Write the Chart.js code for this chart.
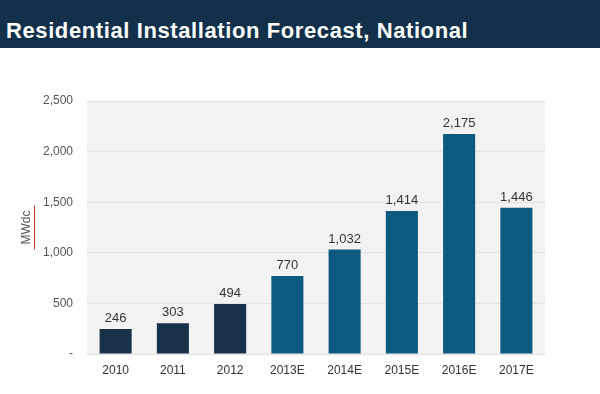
<!DOCTYPE html>
<html>
<head>
<meta charset="utf-8">
<script src="https://cdn.jsdelivr.net/npm/chart.js@4"></script>
<style>
  html, body { margin: 0; padding: 0; background: #fff; }
  #bar {
    height: 48px; background: #12304a; color: #fff;
    font: bold 22px "Liberation Sans", Arial, sans-serif;
    letter-spacing: 0.6px;
    padding-left: 6px; box-sizing: border-box;
    padding-top: 18px; line-height: 26px;
  }
  #wrap { position: relative; width: 600px; height: 346px; }
</style>
</head>
<body>
<div id="bar">Residential Installation Forecast, National</div>
<div id="wrap"><canvas id="myChart"></canvas></div>
<script>
var years = ["2010", "2011", "2012", "2013E", "2014E", "2015E", "2016E", "2017E"];
var mwdc = [246, 303, 494, 770, 1032, 1414, 2175, 1446];
var yTicks = [0, 500, 1000, 1500, 2000, 2500];
var barColors = years.map(function (y) {
  return y.indexOf("E") > 0 ? "#0d5a81" : "#17314a";
});

// grey plot area, value labels and the MWdc axis title
var extras = {
  id: "extras",
  beforeDraw: function (chart) {
    var a = chart.chartArea, ctx = chart.ctx;
    ctx.save();
    ctx.fillStyle = "#f2f2f2";
    ctx.fillRect(a.left, a.top, a.right - a.left, a.bottom - a.top);
    ctx.restore();
  },
  afterDraw: function (chart) {
    var ctx = chart.ctx, a = chart.chartArea;
    ctx.save();
    ctx.font = "13px 'Liberation Sans', Arial, sans-serif";
    ctx.fillStyle = "#333";
    ctx.textAlign = "center";
    ctx.textBaseline = "bottom";
    chart.getDatasetMeta(0).data.forEach(function (bar, i) {
      ctx.fillText(mwdc[i].toLocaleString("en-US"), bar.x, bar.y - 4);
    });
    var cy = (a.top + a.bottom) / 2;
    ctx.translate(27, cy);
    ctx.rotate(-Math.PI / 2);
    ctx.font = "12px 'Liberation Sans', Arial, sans-serif";
    ctx.fillStyle = "#555";
    ctx.textBaseline = "middle";
    ctx.fillText("MWdc", 0, 0);
    ctx.strokeStyle = "#c0392b";
    ctx.lineWidth = 1;
    ctx.beginPath();
    ctx.moveTo(-22, 7.5);
    ctx.lineTo(22, 7.5);
    ctx.stroke();
    ctx.restore();
  }
};

new Chart("myChart", {
  type: "bar",
  data: {
    labels: years,
    datasets: [{
      data: mwdc,
      backgroundColor: barColors,
      barPercentage: 0.56,
      categoryPercentage: 1
    }]
  },
  plugins: [extras],
  options: {
    responsive: true,
    maintainAspectRatio: false,
    animation: false,
    layout: { padding: { left: 0, right: 55, top: 53, bottom: 0 } },
    plugins: { legend: { display: false }, tooltip: { enabled: false } },
    scales: {
      x: {
        grid: { display: false, drawTicks: false },
        border: { display: false },
        ticks: {
          color: "#333",
          padding: 9,
          font: { family: "'Liberation Sans', Arial, sans-serif", size: 12 }
        },
        afterFit: function (s) { s.height = 40; }
      },
      y: {
        min: 0,
        max: 2500,
        afterBuildTicks: function (s) {
          s.ticks = yTicks.map(function (v) { return { value: v }; });
        },
        grid: { color: "#e2e2e2", drawTicks: false },
        border: { display: false },
        ticks: {
          color: "#555",
          padding: 14,
          font: { family: "'Liberation Sans', Arial, sans-serif", size: 12 },
          callback: function (v) { return v === 0 ? "-" : v.toLocaleString("en-US"); }
        },
        afterFit: function (s) { s.width = 87; }
      }
    }
  }
});
</script>
</body>
</html>
